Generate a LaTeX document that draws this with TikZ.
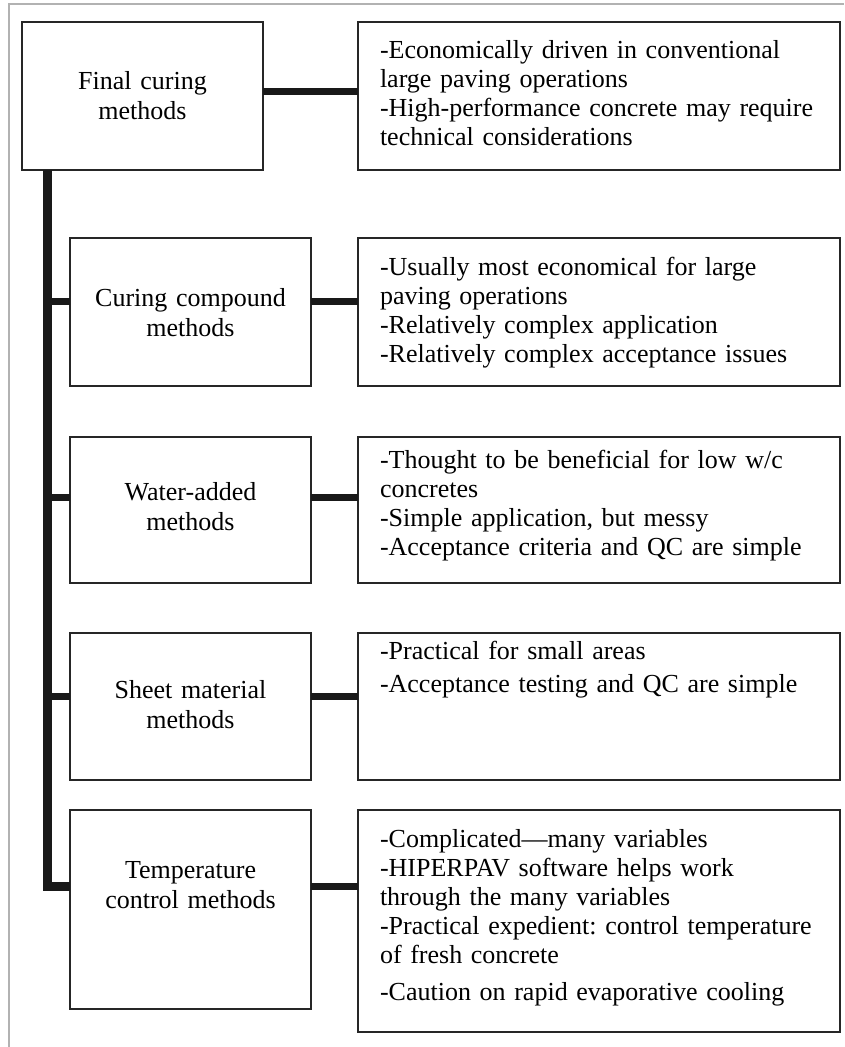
\documentclass[tikz,border=0pt]{standalone}
\usepackage{fontspec}
\setmainfont{Liberation Serif}
\frenchspacing

\tikzset{
  method/.style={draw=black!85, line width=1.6pt, outer sep=0pt, anchor=north west,
    inner xsep=10pt, inner ysep=0pt, text width=221pt, align=center,
    font=\fontsize{26}{30}\selectfont},
  notebox/.style={draw=black!85, line width=1.6pt, outer sep=0pt, anchor=north west,
    inner xsep=22pt, inner ysep=0pt, text width=438pt, align=left,
    font=\fontsize{26}{29}\selectfont},
  link/.style={black!90, line width=7pt},
  trunk/.style={black!90, line width=9pt}
}

\begin{document}
\begin{tikzpicture}[x=1pt,y=-1pt]
        \useasboundingbox (0,0) rectangle (844,1047);
        \draw[gray!60, line width=1.2pt] (9,1047) -- (9,4) -- (844,4);

        % left column
        \node[method, text height=67pt, text depth=81pt] (final) at (22,22) {Final curing\\methods};
        \node[method, text height=68pt, text depth=80pt] (compound) at (70,238) {Curing compound\\methods};
        \node[method, text height=63pt, text depth=83pt] (water) at (70,437) {Water-added\\methods};
        \node[method, text height=65pt, text depth=82pt] (sheet) at (70,633) {Sheet material\\methods};
        \node[method, text height=68pt, text depth=131pt] (temp) at (70,810) {Temperature\\control methods};

        % right column
        \node[notebox, text height=36pt, text depth=112pt] (notefinal) at (358,22) {-Economically driven in conventional\\large paving operations\\-High-performance concrete may require\\technical considerations};
        \node[notebox, text height=37pt, text depth=111pt] (notecompound) at (358,238) {-Usually most economical for large\\paving operations\\-Relatively complex application\\-Relatively complex acceptance issues};
        \node[notebox, text height=31pt, text depth=115pt] (notewater) at (358,437) {-Thought to be beneficial for low w/c\\concretes\\-Simple application, but messy\\-Acceptance criteria and QC are simple};
        \node[notebox, text height=26pt, text depth=121pt] (notesheet) at (358,633) {-Practical for small areas\\[4pt]-Acceptance testing and QC are simple};
        \node[notebox, text height=37pt, text depth=185pt] (notetemp) at (358,810) {-Complicated---many variables\\-HIPERPAV software helps work\\through the many variables\\-Practical expedient: control temperature\\of fresh concrete\\[8pt]-Caution on rapid evaporative cooling};

        % trunk and branches
        \coordinate (trunktop) at ([xshift=25pt]final.south west);
        \draw[trunk] (trunktop) |- ([yshift=23pt]temp.west);
        \draw[link] ([yshift=11pt]compound.west) -- ([yshift=11pt]compound.west -| trunktop);
        \draw[link] ([yshift=13pt]water.west) -- ([yshift=13pt]water.west -| trunktop);
        \draw[link] ([yshift=10pt]sheet.west) -- ([yshift=10pt]sheet.west -| trunktop);

        \draw[link] ([yshift=5pt]final.east) -- ([yshift=5pt]final.east -| notefinal.west);
        \draw[link] ([yshift=11pt]compound.east) -- ([yshift=11pt]compound.east -| notecompound.west);
        \draw[link] ([yshift=13pt]water.east) -- ([yshift=13pt]water.east -| notewater.west);
        \draw[link] ([yshift=10pt]sheet.east) -- ([yshift=10pt]sheet.east -| notesheet.west);
        \draw[link] ([yshift=23pt]temp.east) -- ([yshift=23pt]temp.east -| notetemp.west);
\end{tikzpicture}
\end{document}
